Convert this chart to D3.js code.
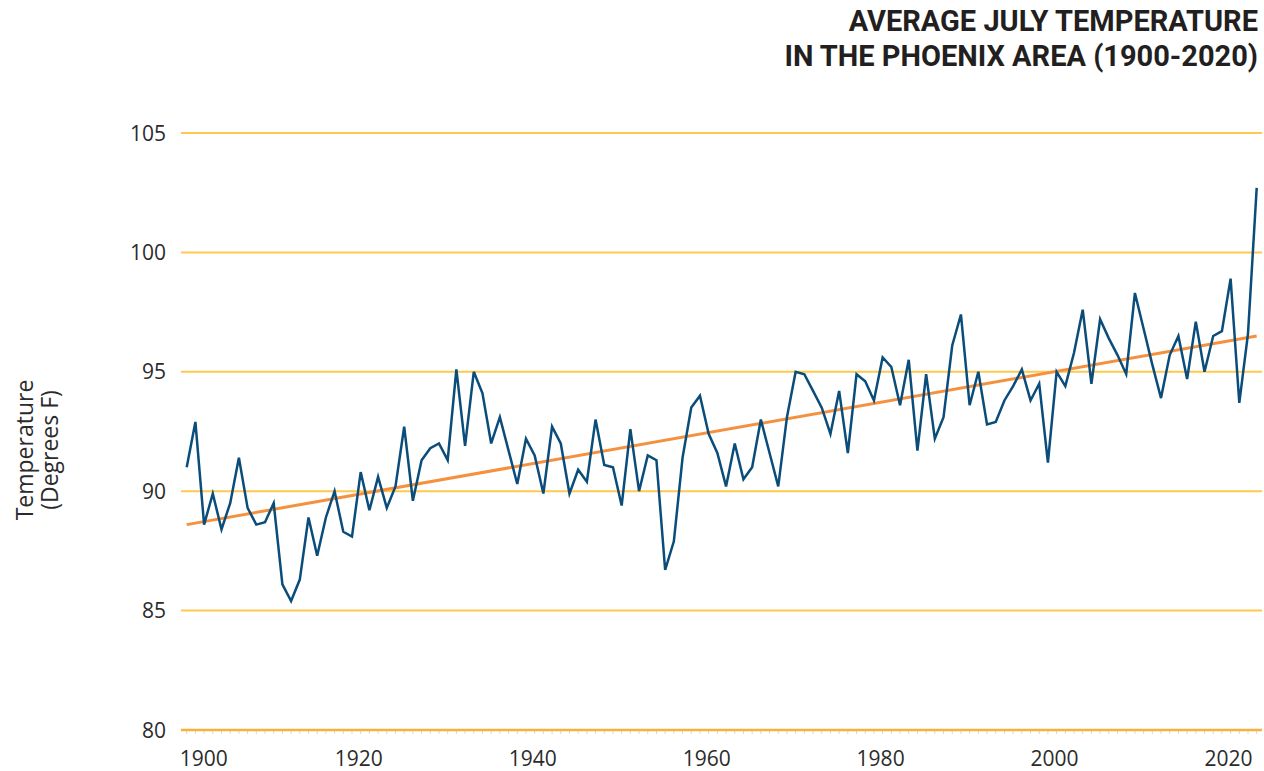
<!DOCTYPE html>
<html>
<head>
<meta charset="utf-8">
<script src="https://cdn.jsdelivr.net/npm/d3@7"></script>
<style>
  html, body { margin: 0; padding: 0; background: #fff; }
  svg { display: block; }
</style>
</head>
<body>
<svg id="chart" width="1264" height="771"></svg>
<script>
// ---- DATA ----
const titleLines = ["AVERAGE JULY TEMPERATURE", "IN THE PHOENIX AREA (1900-2020)"];
const yAxisLabel = ["Temperature", "(Degrees F)"];
const firstYear = 1900;
const julyTemps = [
  91.0, 92.9, 88.6, 89.9, 88.4, 89.5, 91.4, 89.3, 88.6, 88.7,   // 1900-1909
  89.5, 86.1, 85.4, 86.3, 88.9, 87.3, 88.9, 90.0, 88.3, 88.1,   // 1910-1919
  90.8, 89.2, 90.6, 89.3, 90.2, 92.7, 89.6, 91.3, 91.8, 92.0,   // 1920-1929
  91.3, 95.1, 91.9, 95.0, 94.1, 92.0, 93.1, 91.7, 90.3, 92.2,   // 1930-1939
  91.5, 89.9, 92.7, 92.0, 89.9, 90.9, 90.4, 93.0, 91.1, 91.0,   // 1940-1949
  89.4, 92.6, 90.0, 91.5, 91.3, 86.7, 87.9, 91.4, 93.5, 94.0,   // 1950-1959
  92.4, 91.6, 90.2, 92.0, 90.5, 91.0, 93.0, 91.6, 90.2, 93.1,   // 1960-1969
  95.0, 94.9, 94.2, 93.5, 92.4, 94.2, 91.6, 94.9, 94.6, 93.8,   // 1970-1979
  95.6, 95.2, 93.6, 95.5, 91.7, 94.9, 92.2, 93.1, 96.1, 97.4,   // 1980-1989
  93.6, 95.0, 92.8, 92.9, 93.8, 94.4, 95.1, 93.8, 94.5, 91.2,   // 1990-1999
  95.0, 94.4, 95.8, 97.6, 94.5, 97.2, 96.4, 95.7, 94.9, 98.3,   // 2000-2009
  96.8, 95.3, 93.9, 95.7, 96.5, 94.7, 97.1, 95.0, 96.5, 96.7,   // 2010-2019
  98.9, 93.7, 96.6, 102.7                                       // 2020-2023
];
const trendEnds = [88.6, 96.5];          // linear trend at first and last year
const yTicks = [80, 85, 90, 95, 100, 105];
const xTicks = [1900, 1920, 1940, 1960, 1980, 2000, 2020];

// ---- LAYOUT ----
const years = julyTemps.map((_, i) => firstYear + i);
const lastYear = years[years.length - 1];
const svg = d3.select("#chart");

const x = d3.scaleLinear().domain([firstYear, lastYear]).range([186.7, 1256.7]);
const y = d3.scaleLinear().domain([80, 105]).range([730, 133]);
const gridX0 = 181, gridX1 = 1262;
const labelFont = "'Open Sans', 'Noto Sans', sans-serif";

// Title
svg.append("g").selectAll("text").data(titleLines).join("text")
  .attr("x", 1258)
  .attr("y", (d, i) => 31 + i * 35)
  .attr("text-anchor", "end")
  .attr("font-family", "Roboto, 'Liberation Sans', sans-serif")
  .attr("font-weight", 700)
  .attr("font-size", 29)
  .attr("fill", "#231f20")
  .text(d => d);

// Y axis label
const yl = svg.append("text")
  .attr("transform", "translate(0,450) rotate(-90)")
  .attr("text-anchor", "middle")
  .attr("font-family", labelFont)
  .attr("font-size", 23)
  .attr("fill", "#2b2b2b");
yl.selectAll("tspan").data(yAxisLabel).join("tspan")
  .attr("x", 0)
  .attr("y", (d, i) => 33 + i * 25)
  .text(d => d);

// Gridlines
svg.append("g").selectAll("line").data(yTicks.filter(t => t !== 80)).join("line")
  .attr("x1", gridX0).attr("x2", gridX1)
  .attr("y1", d => y(d)).attr("y2", d => y(d))
  .attr("stroke", "#fdca4f")
  .attr("stroke-width", 2);

// Minor yearly ticks under baseline
svg.append("g").selectAll("line").data(years).join("line")
  .attr("x1", d => x(d)).attr("x2", d => x(d))
  .attr("y1", y(80) + 1).attr("y2", y(80) + 4)
  .attr("stroke", "#d6d6d6")
  .attr("stroke-width", 1);

// Baseline
svg.append("line")
  .attr("x1", gridX0).attr("x2", gridX1)
  .attr("y1", y(80)).attr("y2", y(80))
  .attr("stroke", "#f9b13a")
  .attr("stroke-width", 2.5);

// Y tick labels
svg.append("g").selectAll("text").data(yTicks).join("text")
  .attr("x", 166)
  .attr("y", d => y(d))
  .attr("dy", "0.36em")
  .attr("text-anchor", "end")
  .attr("font-family", labelFont)
  .attr("font-size", 21)
  .attr("fill", "#2b2b2b")
  .text(d => d);

// X tick labels
svg.append("g").selectAll("text").data(xTicks).join("text")
  .attr("x", (d, i) => i === 0 ? x(d) - 7 : x(d) - 2)
  .attr("y", 766)
  .attr("text-anchor", (d, i) => i === 0 ? "start" : "middle")
  .attr("font-family", labelFont)
  .attr("font-size", 21)
  .attr("fill", "#2b2b2b")
  .text(d => d);

// Trend line
svg.append("line")
  .attr("x1", x(firstYear)).attr("y1", y(trendEnds[0]))
  .attr("x2", x(lastYear)).attr("y2", y(trendEnds[1]))
  .attr("stroke", "#f5913e")
  .attr("stroke-width", 3);

// Temperature line
const line = d3.line().x((d, i) => x(years[i])).y(d => y(d));
svg.append("path")
  .datum(julyTemps)
  .attr("d", line)
  .attr("fill", "none")
  .attr("stroke", "#0a4c7a")
  .attr("stroke-width", 2.5)
  .attr("stroke-linejoin", "miter");
</script>
</body>
</html>
